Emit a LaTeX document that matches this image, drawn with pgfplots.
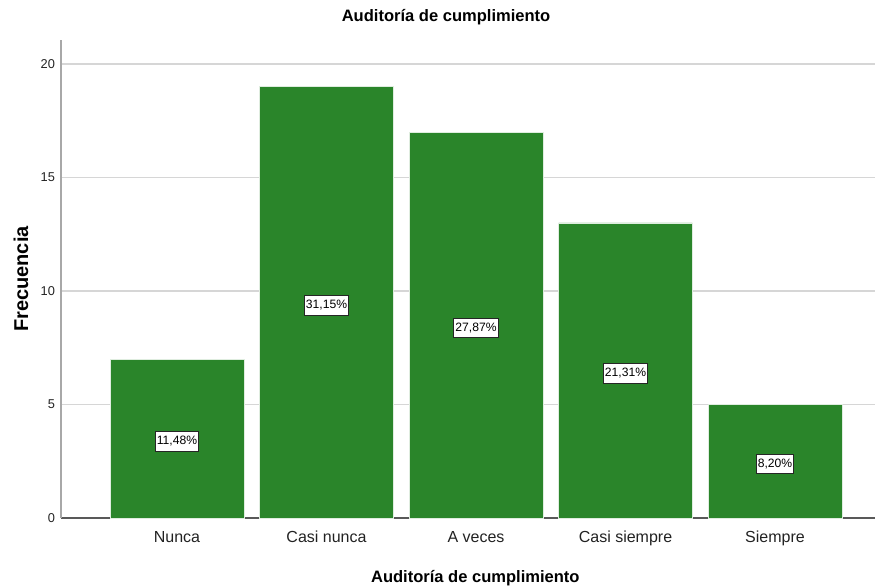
\documentclass[border=0pt]{standalone}
\usepackage{pgfplots}
\pgfplotsset{compat=1.18}
\usepackage{fontspec}
\setmainfont{Liberation Sans}
\definecolor{barg}{HTML}{2A852A}
\definecolor{gridc}{HTML}{D6D6D6}
\definecolor{spinec}{HTML}{A8A8A8}
\definecolor{txt}{HTML}{222222}
\begin{document}
\begin{tikzpicture}
\path[use as bounding box] (-45.75pt,-51pt) rectangle (610.5pt,388.5pt);
\begin{axis}[
  at={(0,0)}, anchor=south west,
  scale only axis,
  width=610.5pt, height=358.5pt,
  xmin=-0.776, xmax=4.669,
  ymin=0, ymax=21.06,
  axis lines=left,
  axis line style={-},
  x axis line style={draw=black!65, line width=0.9pt},
  y axis line style={draw=spinec, line width=0.9pt},
  ytick={0,5,10,15,20},
  xtick={0,1,2,3,4},
  xticklabels={Nunca,Casi nunca,A veces,Casi siempre,Siempre},
  major tick length=0pt,
  ymajorgrids,
  grid style={draw=gridc, line width=0.9pt},
  /pgf/number format/assume math mode=true,
  yticklabel style={font=\fontsize{9.6}{11}\selectfont, text=txt, xshift=-1pt},
  xticklabel style={font=\fontsize{12}{14}\selectfont, text=txt, yshift=-7pt, text height=0.75em, text depth=0.22em},
  title={\textbf{Auditoría de cumplimiento}},
  title style={at={(axis description cs:0.473,1)}, anchor=center, yshift=11.25pt, font=\fontsize{12.4}{14}\selectfont, text=black},
  xlabel={\textbf{Auditoría de cumplimiento}},
  xlabel style={at={(axis description cs:0.509,0)}, anchor=center, yshift=-45pt, font=\fontsize{12.4}{14}\selectfont, text=black},
  ylabel={\textbf{Frecuencia}},
  ylabel style={at={(axis description cs:0,0.5)}, anchor=center, yshift=30pt, font=\fontsize{15}{17}\selectfont, text=black},
  clip=false,
]
\addplot[ybar, bar width=0.896, fill=barg, draw=white!85!barg, line width=0.5pt, bar shift=0pt]
  coordinates {(0,7) (1,19) (2,17) (3,13) (4,5)};
\addplot[only marks, mark=none, point meta=explicit symbolic,
  nodes near coords,
  nodes near coords style={anchor=center, draw=black!85, line width=0.6pt, fill=white, text=black, inner xsep=1.2pt, inner ysep=3.6pt, font=\fontsize{9.1}{10}\selectfont}]
  coordinates {(0,3.38)[11,48\%] (1,9.38)[31,15\%] (2,8.37)[27,87\%] (3,6.38)[21,31\%] (4,2.38)[8,20\%]};
\end{axis}
\end{tikzpicture}
\end{document}
